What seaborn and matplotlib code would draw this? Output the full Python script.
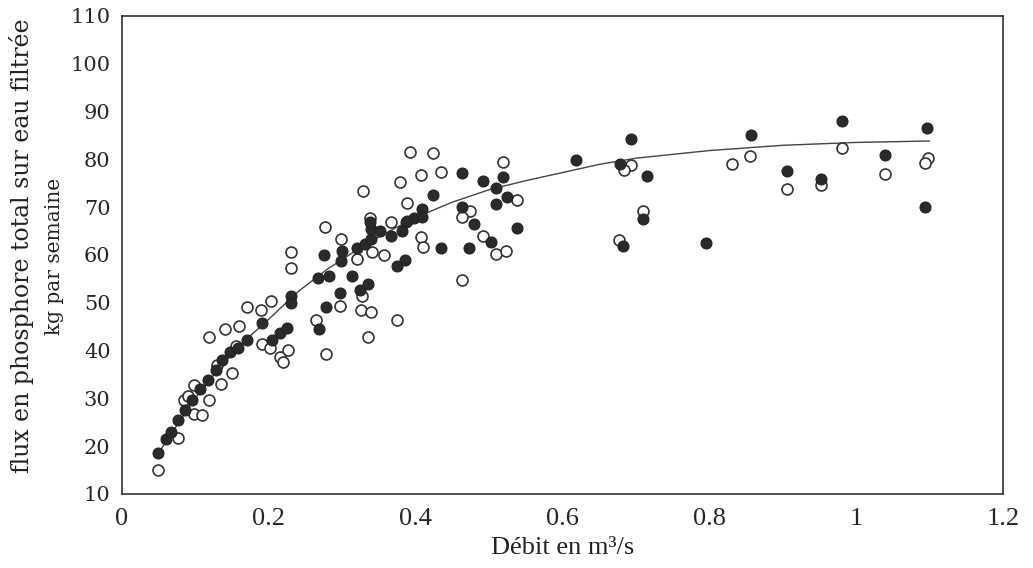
import matplotlib
matplotlib.use("Agg")
import matplotlib.pyplot as plt
import seaborn as sns
import pandas as pd

# filled circles (débit m3/s, kg par semaine)
full_x = [0.05, 0.06, 0.067, 0.076, 0.086, 0.096, 0.107, 0.117, 0.128, 0.137,
          0.148, 0.158, 0.171, 0.191, 0.205, 0.216, 0.225, 0.23, 0.23, 0.267,
          0.282, 0.298, 0.30, 0.32, 0.331, 0.34, 0.34, 0.338, 0.352, 0.367,
          0.381, 0.387, 0.398, 0.276, 0.297, 0.313, 0.325, 0.336, 0.278, 0.269,
          0.375, 0.386, 0.388, 0.409, 0.409, 0.424, 0.464, 0.492, 0.519, 0.51,
          0.524, 0.51, 0.464, 0.48, 0.538, 0.503, 0.435, 0.473,
          0.619, 0.693, 0.678, 0.715, 0.71, 0.683, 0.795, 0.857, 0.981, 1.097,
          1.039, 0.906, 0.952, 1.094]
full_y = [18.5, 21.5, 22.9, 25.4, 27.6, 29.6, 32.0, 33.8, 35.9, 38.0,
          39.7, 40.5, 42.2, 45.7, 42.2, 43.6, 44.7, 51.3, 49.9, 55.2,
          55.5, 58.7, 60.8, 61.5, 62.2, 63.3, 65.4, 66.9, 65.0, 64.0,
          65.0, 66.8, 67.8, 59.9, 52.0, 55.5, 52.7, 53.8, 49.1, 44.5,
          57.6, 58.9, 67.1, 69.6, 68.0, 72.5, 77.1, 75.4, 76.3, 73.9,
          72.0, 70.6, 69.9, 66.4, 65.7, 62.6, 61.5, 61.5,
          79.8, 84.2, 78.9, 76.5, 67.4, 61.9, 62.4, 85.1, 88.0, 86.5,
          80.9, 77.6, 75.9, 70.1]

# open circles
open_x = [0.05, 0.077, 0.098, 0.11, 0.085, 0.098, 0.119, 0.135, 0.15, 0.119,
          0.141, 0.16, 0.191, 0.202, 0.216, 0.22, 0.227, 0.23, 0.23, 0.171,
          0.19, 0.203, 0.09, 0.13, 0.155,
          0.393, 0.424, 0.519, 0.408, 0.435, 0.379, 0.329, 0.388, 0.474, 0.464,
          0.538, 0.277, 0.298, 0.338, 0.367, 0.492, 0.408, 0.41, 0.341, 0.357,
          0.321, 0.51, 0.523, 0.464, 0.327, 0.297, 0.326, 0.339, 0.264, 0.375,
          0.335, 0.278,
          0.693, 0.684, 0.71, 0.677, 0.831, 0.856, 0.981, 0.906, 0.952, 1.039,
          1.098, 1.094]
open_y = [15.0, 21.7, 26.8, 26.6, 29.7, 32.7, 29.6, 32.9, 35.3, 42.9,
          44.5, 45.2, 41.4, 40.5, 38.6, 37.6, 40.0, 60.6, 57.3, 49.0,
          48.5, 50.3, 30.5, 37.0, 41.0,
          81.6, 81.3, 79.4, 76.6, 77.4, 75.2, 73.3, 70.8, 69.2, 68.0,
          71.5, 65.9, 63.4, 67.6, 66.8, 64.0, 63.8, 61.7, 60.6, 59.9,
          59.2, 60.2, 60.9, 54.8, 51.3, 49.2, 48.5, 48.1, 46.3, 46.3,
          42.9, 39.2,
          78.8, 77.7, 69.2, 63.1, 78.9, 80.7, 82.3, 73.8, 74.6, 77.0,
          80.2, 79.1]

# fitted curve
curve_x = [0.05, 0.08, 0.1, 0.13, 0.16, 0.2, 0.24, 0.28, 0.32, 0.36, 0.4,
           0.45, 0.5, 0.55, 0.6, 0.65, 0.7, 0.8, 0.9, 1.0, 1.1]
curve_y = [18.5, 25.5, 30.0, 35.8, 41.0, 46.5, 52.3, 57.0, 61.0, 64.6, 67.8,
           71.0, 73.6, 75.5, 77.2, 78.9, 80.2, 81.8, 82.9, 83.5, 83.8]

x_ticks = [0, 0.2, 0.4, 0.6, 0.8, 1.0, 1.2]
x_labels = ["0", "0.2", "0.4", "0.6", "0.8", "1", "1.2"]
y_ticks = list(range(10, 111, 10))

sns.set_style("white")

fig = plt.figure(figsize=(10.33, 5.68), dpi=100)
ax = fig.add_axes([0.1178, 0.1303, 0.8532, 0.8421])

curve = pd.DataFrame({"x": curve_x, "y": curve_y})
sns.lineplot(data=curve, x="x", y="y", color="#444444", linewidth=1.0,
             estimator=None, sort=False, ax=ax, zorder=1)
sns.scatterplot(x=open_x, y=open_y, marker="o", s=62, facecolor="white",
                edgecolor="#333333", linewidth=1.2, ax=ax, zorder=2)
sns.scatterplot(x=full_x, y=full_y, marker="o", s=62, color="#2a2a2a",
                edgecolor="#222222", linewidth=0.8, ax=ax, zorder=3)

ax.set_xlim(0, 1.2)
ax.set_ylim(10, 110)
ax.set_xticks(x_ticks)
ax.set_xticklabels(x_labels, fontfamily="Liberation Serif", fontsize=19)
ax.set_yticks(y_ticks)
ax.set_yticklabels([str(v) for v in y_ticks], fontfamily="DejaVu Serif", fontsize=15)
ax.tick_params(axis="both", direction="in", length=6, width=1, color="#333333",
               top=False, right=False)
ax.tick_params(axis="x", pad=10)
ax.tick_params(axis="y", pad=8)

for sp in ax.spines.values():
    sp.set_linewidth(1.2)
    sp.set_color("#333333")

ax.set_xlabel("Débit en m³/s", fontfamily="Liberation Serif", fontsize=19,
              color="#222222", labelpad=5)
ax.set_ylabel("")

# two-line y label, placed like the scan
fig.text(22 / 1033, 1 - 246 / 568, "flux en phosphore total sur eau filtrée",
         rotation=90, ha="center", va="center", fontfamily="DejaVu Serif",
         fontsize=17, color="#222222")
fig.text(55 / 1033, 1 - 256 / 568, "kg par semaine",
         rotation=90, ha="center", va="center", fontfamily="DejaVu Serif",
         fontsize=14.5, color="#222222")

fig.savefig("out.png", dpi=100)
